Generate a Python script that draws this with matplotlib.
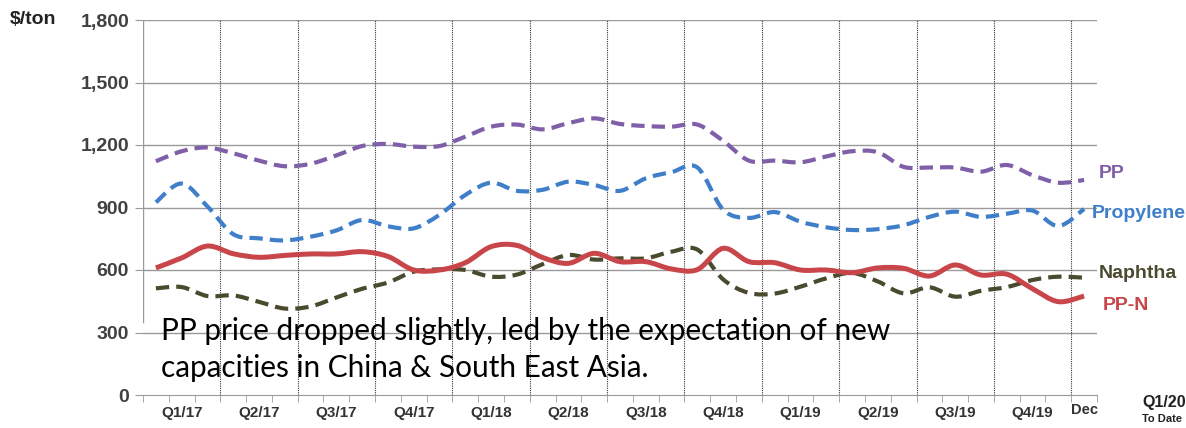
import numpy as np
import matplotlib
matplotlib.use('Agg')
from matplotlib import pyplot as plt
from matplotlib.path import Path
from matplotlib.patches import PathPatch

# monthly readings, Jan-17 ... Dec-19 plus the extra "Dec" slot ($/ton)
pp = [1122, 1170, 1188, 1160, 1125, 1098, 1110, 1150, 1195, 1205, 1192, 1195,
      1240, 1288, 1298, 1275, 1305, 1328, 1301, 1291, 1288, 1298, 1220, 1125,
      1125, 1117, 1145, 1170, 1165, 1095, 1092, 1092, 1072, 1104, 1055, 1019, 1032]
propylene = [925, 1015, 905, 772, 752, 742, 760, 790, 840, 810, 800, 865,
             960, 1019, 980, 985, 1024, 1008, 980, 1040, 1070, 1092, 890, 850,
             878, 832, 805, 792, 796, 815, 855, 880, 855, 870, 885, 811, 893]
pp_n = [610, 658, 715, 678, 661, 670, 677, 677, 688, 665, 600, 600,
        635, 712, 718, 660, 632, 680, 640, 640, 605, 602, 704, 640,
        635, 600, 600, 587, 610, 608, 571, 624, 576, 580, 510, 448, 475]
naphtha = [512, 518, 475, 478, 447, 415, 425, 468, 510, 540, 592, 603,
           600, 568, 578, 628, 672, 650, 656, 656, 688, 698, 555, 490,
           487, 520, 560, 586, 545, 488, 517, 472, 500, 518, 552, 568, 563]

quarters = ['Q1/17', 'Q2/17', 'Q3/17', 'Q4/17', 'Q1/18', 'Q2/18', 'Q3/18', 'Q4/18',
            'Q1/19', 'Q2/19', 'Q3/19', 'Q4/19']
y_ticks = [0, 300, 600, 900, 1200, 1500, 1800]

note = ['PP price dropped slightly, led by the expectation of new',
        'capacities in China & South East Asia.']


def smooth_path(x, y):
    # excel-like smoothed line: catmull-rom segments as cubic beziers
    pts = np.column_stack([x, y]).astype(float)
    n = len(pts)
    verts = [pts[0]]
    codes = [Path.MOVETO]
    for i in range(n - 1):
        p0 = pts[max(i - 1, 0)]
        p1 = pts[i]
        p2 = pts[i + 1]
        p3 = pts[min(i + 2, n - 1)]
        verts += [p1 + (p2 - p0) / 6, p2 - (p3 - p1) / 6, p2]
        codes += [Path.CURVE4] * 3
    return Path(verts, codes)


def add_series(ax, values, color, lw, ls):
    x = np.arange(len(values)) + 0.5
    patch = PathPatch(smooth_path(x, values), fill=False, edgecolor=color,
                      lw=lw, linestyle=ls, capstyle='butt', zorder=4)
    ax.add_patch(patch)


def main():
    W, H = 1186, 428
    fig = plt.figure(figsize=(W / 100, H / 100), dpi=100)
    ax = fig.add_axes([143 / W, 1 - 395 / H, (1097 - 143) / W, 375 / H])

    ax.set_xlim(0, 37)
    ax.set_ylim(0, 1800)

    for v in y_ticks[1:]:
        ax.axhline(v, color='#9a9a9a', lw=1, zorder=1)
    for q in range(3, 37, 3):
        ax.axvline(q, color='#333333', lw=0.8, ls=(0, (1, 1)), zorder=2)

    add_series(ax, pp, '#7f5fa8', 3, (0, (3.2, 1.7)))
    add_series(ax, propylene, '#3f7fca', 3, (0, (3.2, 1.7)))
    add_series(ax, naphtha, '#4a4a2e', 3, (0, (3.2, 1.7)))
    add_series(ax, pp_n, '#c8464a', 3.6, '-')

    for s in ['top', 'right', 'left']:
        ax.spines[s].set_visible(False)
    ax.spines['bottom'].set_color('#9a9a9a')
    ax.axvline(0, ymin=350 / 1800, ymax=1, color='#9a9a9a', lw=1, zorder=1)

    ax.set_yticks(y_ticks)
    ax.set_yticklabels([f'{v:,}' for v in y_ticks], fontsize=14, fontweight='bold',
                       color='#404040', family='Liberation Sans')
    ax.tick_params(axis='y', length=6, color='#9a9a9a', pad=4)

    ax.set_xticks(np.arange(0, 38), minor=True)
    ax.set_xticks(np.arange(1.5, 36, 3))
    ax.set_xticklabels(quarters, fontsize=11, fontweight='bold', color='#333333',
                       family='Liberation Sans')
    ax.tick_params(axis='x', which='major', length=0, pad=8)
    ax.tick_params(axis='x', which='minor', length=5, color='#9a9a9a')

    bold = dict(fontweight='bold', family='Liberation Sans')
    fig.text(10 / W, 1 - 19 / H, '$/ton', fontsize=14, color='#222222', va='center', **bold)
    ax.text(36.5, -72, 'Dec', fontsize=10.5, color='#333333', ha='center', va='center', **bold)
    fig.text(1142 / W, 1 - 402 / H, 'Q1/20', fontsize=11.5, color='#222222', va='center', **bold)
    fig.text(1142 / W, 1 - 419 / H, 'To Date', fontsize=8, color='#222222', va='center', **bold)

    fig.text(1099 / W, 1 - 173 / H, 'PP', fontsize=14, color='#7f5fa8', va='center', **bold)
    fig.text(1092 / W, 1 - 213 / H, 'Propylene', fontsize=14, color='#3f7fca', va='center', **bold)
    fig.text(1099 / W, 1 - 273 / H, 'Naphtha', fontsize=14, color='#4a4a2e', va='center', **bold)
    fig.text(1103 / W, 1 - 306 / H, 'PP-N', fontsize=14, color='#c8464a', va='center', **bold)

    fig.text(161 / W, 1 - 340 / H, note[0], fontsize=21.4, family='Lato', va='baseline')
    fig.text(161 / W, 1 - 377 / H, note[1], fontsize=21.4, family='Lato', va='baseline')

    fig.savefig('out.png', dpi=100)


if __name__ == '__main__':
    main()
